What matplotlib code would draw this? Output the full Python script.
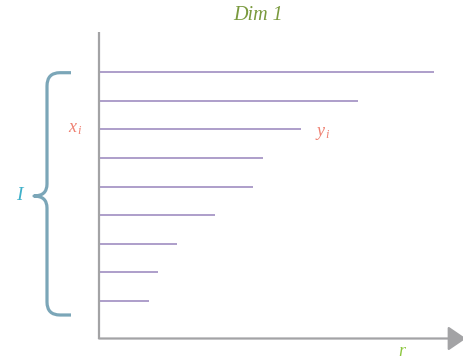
import numpy as np
import matplotlib.pyplot as plt
from matplotlib.path import Path
from matplotlib.patches import PathPatch

# bar lengths (pixel-ish units along r), top row first
lengths = [335, 259, 202, 164, 154, 116, 78, 59, 50]
rows = np.arange(len(lengths))

title = 'Dim 1'
x_label = 'r'
row_label = 'x'
value_label = 'y'
set_label = 'I'

purple = '#a796c6'
grey = '#a3a3a5'
brace_col = '#7ba6b8'

fig = plt.figure(figsize=(4.64, 3.64), dpi=100)

# main axes: x=0 at the vertical axis, one unit per row
row_step = 28.55
row0_px = 72.3
ax = fig.add_axes([0, 0, 1, 1])
ax.set_xlim(-99, 365)
ax.set_ylim((364 - row0_px) / row_step, -row0_px / row_step)
ax.axis('off')

ax.hlines(rows, 0, lengths, color=purple, lw=1.3)

# axes lines
y_top = (32.3 - row0_px) / row_step
y_bot = (338.5 - row0_px) / row_step
ax.plot([0, 0], [y_top, y_bot], color=grey, lw=1.6, solid_capstyle='butt')
ax.annotate('', xy=(367, y_bot), xytext=(0, y_bot), annotation_clip=False,
            arrowprops=dict(arrowstyle='-|>,head_length=11,head_width=7.5',
                            mutation_scale=1, color=grey, lw=1.6,
                            shrinkA=0, shrinkB=0))

# overlay in pixel coordinates for labels and the brace
ov = fig.add_axes([0, 0, 1, 1])
ov.set_xlim(0, 464)
ov.set_ylim(364, 0)
ov.axis('off')
ov.patch.set_alpha(0)

serif = ['Liberation Serif', 'DejaVu Serif']
ov.text(258, 15, title, color='#7a9a3e', fontsize=14.5, style='italic',
        family=serif, ha='center', va='center')
ov.text(402, 352, x_label, color='#8cc63f', fontsize=13, style='italic',
        family=serif, ha='center', va='center')
ov.text(68, 128, row_label, color='#ef8172', fontsize=13, style='italic',
        family=serif, ha='left', va='center')
ov.text(77, 131, 'i', color='#ef8172', fontsize=9, style='italic',
        family=serif, ha='left', va='center')
ov.text(317, 132, value_label, color='#ef8172', fontsize=13, style='italic',
        family=serif, ha='left', va='center')
ov.text(325, 135, 'i', color='#ef8172', fontsize=9, style='italic',
        family=serif, ha='left', va='center')
ov.text(19, 195, set_label, color='#3fb0c9', fontsize=14, style='italic',
        family=serif, ha='center', va='center')

# curly brace
verts = [(71, 72.7), (60, 72.7), (47, 72.7), (47, 86),
         (47, 184), (47, 196), (34, 196),
         (47, 196), (47, 208),
         (47, 302), (47, 315), (60, 315), (71, 315)]
codes = [Path.MOVETO, Path.LINETO, Path.CURVE3, Path.CURVE3,
         Path.LINETO, Path.CURVE3, Path.CURVE3,
         Path.CURVE3, Path.CURVE3,
         Path.LINETO, Path.CURVE3, Path.CURVE3, Path.LINETO]
ov.add_patch(PathPatch(Path(verts, codes), fill=False, ec=brace_col, lw=2.3,
                       capstyle='butt', joinstyle='round'))

fig.savefig('out.png', dpi=100)
